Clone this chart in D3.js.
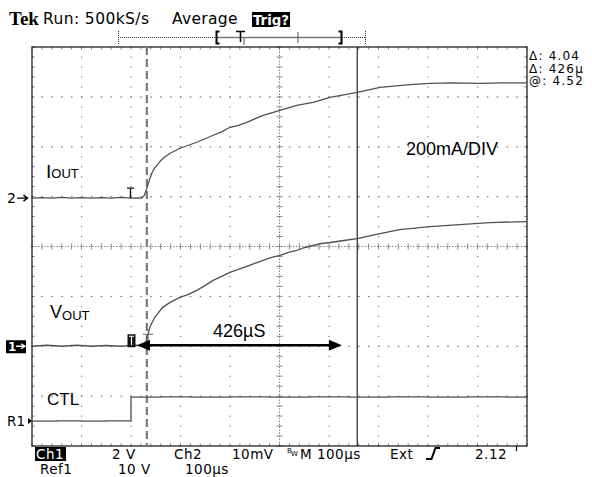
<!DOCTYPE html>
<html><head><meta charset="utf-8">
<script src="https://cdn.jsdelivr.net/npm/d3@7"></script>
<style>
html,body{margin:0;padding:0;background:#fff;}
svg{display:block;}
</style></head>
<body>
<svg id="c" width="592" height="477"></svg>
<script>
// ---- data (time in µs, values in channel units) ----
const ioutTime = [0,20,40,60,80,100,120,140,160,180,200,215,222,227,232,237,242,247,253,259,265,272,279,289,299,316,333,350,366,383,400,417,434,450,467,484,501,518,535,551,568,585,602,630,657,680,703,736,770,804,850,905,950,1000];
const ioutValues = [0,2,0,3,0,2,0,2,0,3,0,1,0,12,40,72,100,118,132,148,160,170,180,190,200,212,224,238,252,266,284,292,304,318,332,342,352,362,372,378,384,394,404,414,424,434,444,450,456,460,462,460,462,462]; // mA
const voutTime = [0,30,60,90,120,150,180,210,228,232,238,248,264,279,299,316,333,350,366,383,400,417,434,450,467,484,501,518,535,551,568,585,602,630,657,680,703,743,804,864,925,1000];
const voutValues = [0,0.04,0,0.04,0,0.03,0,0.04,0,0.28,0.76,1.16,1.56,1.76,1.96,2.08,2.24,2.44,2.64,2.8,2.96,3.08,3.2,3.32,3.44,3.56,3.64,3.76,3.84,3.96,4.04,4.12,4.16,4.24,4.32,4.42,4.52,4.68,4.8,4.88,4.96,5.0]; // V
const ctlTime = [0,50,100,150,199,200,260,320,400,480,560,640,720,800,880,960,1000];
const ctlValues = [0,0.04,0,0.04,0,4.8,4.84,4.8,4.84,4.8,4.84,4.8,4.84,4.8,4.84,4.8,4.84]; // V
const channelScale = {iout: 200, vout: 2, ctl: 10};      // units per division
const channelOffset = {iout: 0.97, vout: -2.0, ctl: -3.5}; // divisions from centre
const cursorTimes = [232, 657];
const arrowTimes = [212, 626];
const headerTexts = ["Run: 500kS/s", "Average", "Trig?"];
const bottomRow1 = ["Ch1", "2 V", "Ch2", "10mV", "M 100µs", "Ext", "2.12"];
const bottomRow2 = ["Ref1", "10 V", "100µs"];
const readouts = ["Δ: 4.04", "Δ: 426µ", "@: 4.52"];

// ---- scales ----
const x = d3.scaleLinear().domain([0, 1000]).range([32, 527]);
const y = d3.scaleLinear().domain([-4, 4]).range([446, 47]);
const svg = d3.select("#c");
const SANS = "DejaVu Sans";
const ARIAL = "Liberation Sans, Arial";
const gridCol = "#7a7a7a";

// ---- graticule ----
const g = svg.append("g");
const xDiv = d3.range(0, 1001, 100);
const yDiv = d3.range(-4, 4.01, 1);
const xMinor = d3.range(0, 1000.1, 20);
const yMinor = d3.range(-4, 4.001, 0.2);
xDiv.filter(t => t > 0 && t < 1000 && t !== 500).forEach(t => {
  yMinor.forEach(v => g.append("rect").attr("x", x(t) - 0.5).attr("y", y(v) - 0.5).attr("width", 1.2).attr("height", 1.2).attr("fill", gridCol));
});
yDiv.filter(v => v > -4 && v < 4 && v !== 0).forEach(v => {
  xMinor.forEach(t => g.append("rect").attr("x", x(t) - 0.6).attr("y", y(v) - 0.5).attr("width", 1.6).attr("height", 1.2).attr("fill", gridCol));
});
g.append("line").attr("x1", x(0)).attr("x2", x(1000)).attr("y1", y(0)).attr("y2", y(0))
  .attr("stroke", "#888").attr("stroke-width", 1).attr("stroke-dasharray", "1.5,1.5");
g.append("line").attr("x1", x(500)).attr("x2", x(500)).attr("y1", y(-4)).attr("y2", y(4))
  .attr("stroke", "#888").attr("stroke-width", 1).attr("stroke-dasharray", "1.5,1.5");
xMinor.forEach(t => g.append("line").attr("x1", x(t)).attr("x2", x(t)).attr("y1", y(0) - 3).attr("y2", y(0) + 3).attr("stroke", "#888").attr("stroke-width", 1));
yMinor.forEach(v => g.append("line").attr("x1", x(500) - 3).attr("x2", x(500) + 3).attr("y1", y(v)).attr("y2", y(v)).attr("stroke", "#888").attr("stroke-width", 1));
xMinor.forEach(t => {
  g.append("line").attr("x1", x(t)).attr("x2", x(t)).attr("y1", y(4)).attr("y2", y(4) + 2.5).attr("stroke", gridCol);
  g.append("line").attr("x1", x(t)).attr("x2", x(t)).attr("y1", y(-4)).attr("y2", y(-4) - 2.5).attr("stroke", gridCol);
});
yMinor.forEach(v => {
  g.append("line").attr("x1", x(0)).attr("x2", x(0) + 2.5).attr("y1", y(v)).attr("y2", y(v)).attr("stroke", gridCol);
  g.append("line").attr("x1", x(1000)).attr("x2", x(1000) - 2.5).attr("y1", y(v)).attr("y2", y(v)).attr("stroke", gridCol);
});
g.append("rect").attr("x", x(0)).attr("y", y(4)).attr("width", x(1000) - x(0)).attr("height", y(-4) - y(4))
  .attr("fill", "none").attr("stroke", "#222").attr("stroke-width", 1.3);

// ---- cursors ----
svg.append("line").attr("x1", x(cursorTimes[0])).attr("x2", x(cursorTimes[0])).attr("y1", y(4)).attr("y2", y(-4))
  .attr("stroke", "#7a7a7a").attr("stroke-width", 2.2).attr("stroke-dasharray", "8,4");
svg.append("line").attr("x1", x(cursorTimes[1])).attr("x2", x(cursorTimes[1])).attr("y1", y(4)).attr("y2", y(-4))
  .attr("stroke", "#111").attr("stroke-width", 1.1);

// ---- traces ----
function trace(times, vals, key) {
  const line = d3.line().x((d, i) => x(times[i])).y(d => y(d / channelScale[key] + channelOffset[key]));
  svg.append("path").datum(vals).attr("d", line).attr("fill", "none").attr("stroke", "#505050").attr("stroke-width", 1.3);
}
trace(ioutTime, ioutValues, "iout");
trace(voutTime, voutValues, "vout");
const ctlLine = d3.line().curve(d3.curveStepAfter).x((d, i) => x(ctlTime[i])).y(d => y(d / channelScale.ctl + channelOffset.ctl));
svg.append("path").datum(ctlValues).attr("d", ctlLine).attr("fill", "none").attr("stroke", "#505050").attr("stroke-width", 1.3);

// ---- trigger markers ----
const yI0 = y(channelOffset.iout), yV0 = y(channelOffset.vout);
svg.append("path").attr("d", `M127,${yI0-10}H134M130.5,${yI0-10}V${yI0}`).attr("stroke", "#111").attr("stroke-width", 1.4).attr("fill", "none");
svg.append("rect").attr("x", 127.5).attr("y", yV0 - 12).attr("width", 8).attr("height", 13).attr("fill", "#111");
svg.append("path").attr("d", `M129,${yV0-10}H134M131.5,${yV0-10}V${yV0-1}`).attr("stroke", "#fff").attr("stroke-width", 1.2).attr("fill", "none");
svg.append("path").attr("d", `M143,${yV0-12}H153M148,${yV0-12}V${yV0-6}`).attr("stroke", "#666").attr("stroke-width", 1.2).attr("fill", "none");

// ---- arrow ----
const ay = yV0 - 1;
const ax1 = x(arrowTimes[0]), ax2 = x(arrowTimes[1]);
svg.append("line").attr("x1", ax1 + 8).attr("x2", ax2 - 8).attr("y1", ay).attr("y2", ay).attr("stroke", "#000").attr("stroke-width", 2.6);
svg.append("path").attr("d", `M${ax1},${ay}L${ax1+13},${ay-5.5}L${ax1+13},${ay+5.5}Z`).attr("fill", "#000");
svg.append("path").attr("d", `M${ax2},${ay}L${ax2-13},${ay-5.5}L${ax2-13},${ay+5.5}Z`).attr("fill", "#000");
svg.append("text").attr("x", 213).attr("y", 337).attr("font-family", ARIAL).attr("font-size", 18).text("426µS");

// ---- trace labels ----
const iL = svg.append("text").attr("x", 46).attr("y", 178).attr("font-family", ARIAL).attr("font-size", 19);
iL.append("tspan").text("I");
iL.append("tspan").attr("font-size", 13).text("OUT");
const vL = svg.append("text").attr("x", 50).attr("y", 318).attr("font-family", ARIAL).attr("font-size", 18);
vL.append("tspan").text("V");
vL.append("tspan").attr("font-size", 13).attr("dy", 2).text("OUT");
svg.append("text").attr("x", 47).attr("y", 405).attr("font-family", ARIAL).attr("font-size", 17).text("CTL");
svg.append("text").attr("x", 406).attr("y", 155).attr("font-family", ARIAL).attr("font-size", 18).text("200mA/DIV");

// ---- channel markers at left ----
svg.append("text").attr("x", 7).attr("y", yI0 + 5).attr("font-family", SANS).attr("font-size", 14).text("2");
svg.append("path").attr("d", `M17,${yI0}H27M23.5,${yI0-3}L27.5,${yI0}L23.5,${yI0+3}`).attr("stroke", "#000").attr("stroke-width", 1.4).attr("fill", "none");
svg.append("rect").attr("x", 6).attr("y", yV0 - 6).attr("width", 20).attr("height", 13).attr("fill", "#000");
svg.append("text").attr("x", 8).attr("y", yV0 + 5).attr("font-family", SANS).attr("font-size", 12).attr("font-weight", "bold").attr("fill", "#fff").text("1");
svg.append("path").attr("d", `M16,${yV0}H24M21,${yV0-2.5}L25,${yV0}L21,${yV0+2.5}`).attr("stroke", "#fff").attr("stroke-width", 1.3).attr("fill", "none");
const yC0 = y(channelOffset.ctl);
svg.append("text").attr("x", 7).attr("y", yC0 + 5).attr("font-family", SANS).attr("font-size", 13.5).text("R1");
svg.append("path").attr("d", `M28,${yC0-3}L32,${yC0}L28,${yC0+3}Z`).attr("fill", "#000");

// ---- header ----
svg.append("text").attr("x", 9).attr("y", 25).attr("font-family", "Liberation Serif").attr("font-weight", "bold").attr("font-size", 19).text("Tek");
svg.append("text").attr("x", 43).attr("y", 24).attr("font-family", SANS).attr("font-size", 15.5).attr("letter-spacing", 0.4).text(headerTexts[0]);
svg.append("text").attr("x", 172).attr("y", 24).attr("font-family", SANS).attr("font-size", 15.5).attr("letter-spacing", 0.3).text(headerTexts[1]);
svg.append("rect").attr("x", 252).attr("y", 12).attr("width", 38).attr("height", 15).attr("fill", "#000");
svg.append("text").attr("x", 253).attr("y", 25).attr("font-family", SANS).attr("font-weight", "bold").attr("font-size", 14)
  .attr("fill", "#fff").attr("textLength", 36).attr("lengthAdjust", "spacingAndGlyphs").text(headerTexts[2]);
const rb = svg.append("g").attr("fill", "none");
rb.append("line").attr("x1", 118).attr("x2", 216).attr("y1", 37.5).attr("y2", 37.5).attr("stroke", "#333").attr("stroke-dasharray", "1,1");
rb.append("line").attr("x1", 216).attr("x2", 342).attr("y1", 37.5).attr("y2", 37.5).attr("stroke", "#777").attr("stroke-width", 1.3);
rb.append("line").attr("x1", 342).attr("x2", 365).attr("y1", 37.5).attr("y2", 37.5).attr("stroke", "#333").attr("stroke-dasharray", "1,1");
rb.append("line").attr("x1", 118.5).attr("x2", 118.5).attr("y1", 31).attr("y2", 44).attr("stroke", "#333").attr("stroke-dasharray", "1,1");
rb.append("line").attr("x1", 365.5).attr("x2", 365.5).attr("y1", 31).attr("y2", 44).attr("stroke", "#333").attr("stroke-dasharray", "1,1");
rb.append("path").attr("d", "M219.5,31.5H216.5V43.5H219.5").attr("stroke", "#000").attr("stroke-width", 2);
rb.append("path").attr("d", "M338.5,31.5H341.5V43.5H338.5").attr("stroke", "#000").attr("stroke-width", 2);
rb.append("path").attr("d", "M236,31.5H245M240.5,31.5V42").attr("stroke", "#000").attr("stroke-width", 1.5);
rb.append("line").attr("x1", 244).attr("x2", 244).attr("y1", 38).attr("y2", 45).attr("stroke", "#555");
rb.append("line").attr("x1", 298).attr("x2", 298).attr("y1", 32).attr("y2", 43).attr("stroke", "#555");

// ---- readouts ----
readouts.forEach((t, i) => {
  svg.append("text").attr("x", 529).attr("y", 60 + i * 12.5).attr("font-family", SANS).attr("font-size", 12)
    .attr("letter-spacing", 1.2).text(t);
});

// ---- bottom labels ----
const row1x = [36, 112, 174, 232, 300, 390, 475];
svg.append("rect").attr("x", 35).attr("y", 447).attr("width", 31).attr("height", 14).attr("fill", "#000");
bottomRow1.forEach((t, i) => {
  svg.append("text").attr("x", row1x[i]).attr("y", 459).attr("font-family", SANS).attr("font-size", 13.5)
    .attr("letter-spacing", 0.5).attr("fill", i === 0 ? "#fff" : "#000").text(t);
});
svg.append("text").attr("x", 287).attr("y", 453).attr("font-family", SANS).attr("font-size", 7).text("B");
svg.append("text").attr("x", 291).attr("y", 456).attr("font-family", SANS).attr("font-size", 7).text("W");
svg.append("path").attr("d", "M426,459H431.5L435.5,448H440").attr("stroke", "#000").attr("stroke-width", 2).attr("fill", "none");
svg.append("line").attr("x1", 516.5).attr("x2", 516.5).attr("y1", 446).attr("y2", 451).attr("stroke", "#000").attr("stroke-width", 1.2);
const row2x = [40, 118, 185];
bottomRow2.forEach((t, i) => {
  svg.append("text").attr("x", row2x[i]).attr("y", 474).attr("font-family", SANS).attr("font-size", 13.5)
    .attr("letter-spacing", 0.5).text(t);
});
</script>
</body></html>
